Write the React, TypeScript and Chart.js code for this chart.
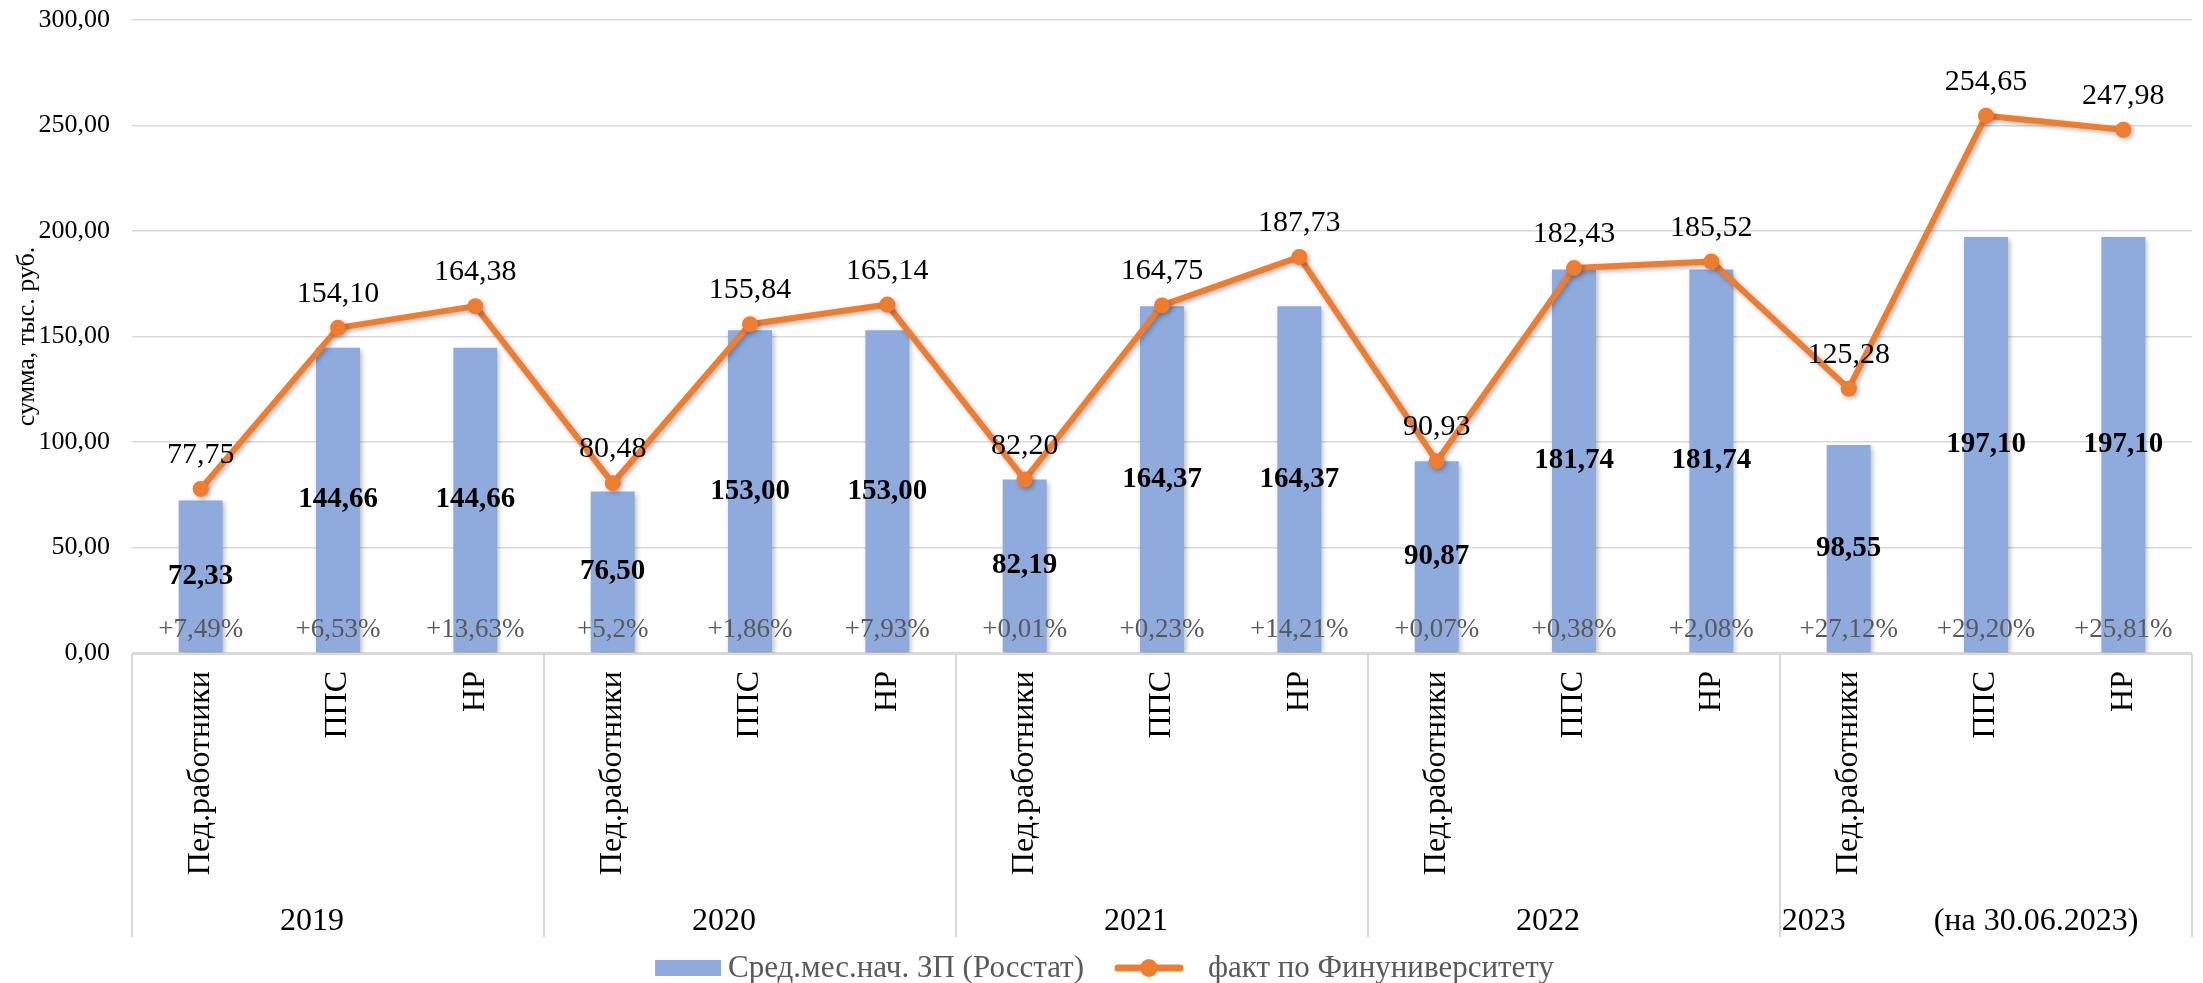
import React, { useEffect, useRef } from 'react';
import { Chart, registerables } from 'chart.js';

Chart.register(...registerables);

const FONT = "'Liberation Serif', 'Times New Roman', serif";

const categories = [
  'Пед.работники', 'ППС', 'НР',
  'Пед.работники', 'ППС', 'НР',
  'Пед.работники', 'ППС', 'НР',
  'Пед.работники', 'ППС', 'НР',
  'Пед.работники', 'ППС', 'НР',
];
const groupSize = 3;
const yearLabels = ['2019', '2020', '2021', '2022', '2023           (на 30.06.2023)'];

const rosstatValues = [72.33, 144.66, 144.66, 76.5, 153.0, 153.0, 82.19, 164.37, 164.37, 90.87, 181.74, 181.74, 98.55, 197.1, 197.1];
const factValues = [77.75, 154.1, 164.38, 80.48, 155.84, 165.14, 82.2, 164.75, 187.73, 90.93, 182.43, 185.52, 125.28, 254.65, 247.98];
const growthLabels = ['+7,49%', '+6,53%', '+13,63%', '+5,2%', '+1,86%', '+7,93%', '+0,01%', '+0,23%', '+14,21%', '+0,07%', '+0,38%', '+2,08%', '+27,12%', '+29,20%', '+25,81%'];

const seriesNames = ['Сред.мес.нач. ЗП (Росстат)', 'факт по Финуниверситету'];
const yAxisTitle = 'сумма, тыс. руб.';
const yMin = 0;
const yMax = 300;
const yStep = 50;

const BAR_COLOR = '#8FAADC';
const LINE_COLOR = '#ED7D31';
const GRID_COLOR = '#D9D9D9';

const fmt = (v: number) => v.toFixed(2).replace('.', ',');

const shadowPlugin = {
  id: 'softShadow',
  beforeDatasetDraw(chart: any) {
    const ctx = chart.ctx;
    ctx.save();
    ctx.shadowColor = 'rgba(0,0,0,0.28)';
    ctx.shadowBlur = 5;
    ctx.shadowOffsetX = 2;
    ctx.shadowOffsetY = 2;
  },
  afterDatasetDraw(chart: any) {
    chart.ctx.restore();
  },
};

const labelsPlugin = {
  id: 'valueLabels',
  afterDatasetsDraw(chart: any) {
    const ctx = chart.ctx;
    const barMeta = chart.getDatasetMeta(0);
    const lineMeta = chart.getDatasetMeta(1);
    const zero = chart.scales.y.getPixelForValue(0);
    ctx.save();
    ctx.textAlign = 'center';
    ctx.font = `27px ${FONT}`;
    ctx.fillStyle = '#595959';
    ctx.textBaseline = 'middle';
    barMeta.data.forEach((el: any, i: number) => {
      ctx.fillText(growthLabels[i], el.x, zero - 23);
    });
    ctx.font = `bold 29px ${FONT}`;
    ctx.fillStyle = '#000';
    barMeta.data.forEach((el: any, i: number) => {
      ctx.fillText(fmt(rosstatValues[i]), el.x, (el.y + el.base) / 2);
    });
    ctx.font = `30px ${FONT}`;
    ctx.textBaseline = 'alphabetic';
    lineMeta.data.forEach((el: any, i: number) => {
      ctx.fillText(fmt(factValues[i]), el.x, el.y - 26);
    });
    ctx.restore();
  },
};

const axisBoxPlugin = {
  id: 'axisBox',
  afterDraw(chart: any) {
    const x = chart.scales.x;
    const ctx = chart.ctx;
    const top = x.top + 1;
    const bottom = x.bottom;
    const bounds: number[] = [x.left];
    for (let g = 1; g < yearLabels.length; g++) {
      const i = g * groupSize;
      bounds.push((x.getPixelForValue(i - 1) + x.getPixelForValue(i)) / 2);
    }
    bounds.push(x.right);
    ctx.save();
    ctx.strokeStyle = GRID_COLOR;
    ctx.lineWidth = 2;
    ctx.beginPath();
    ctx.moveTo(x.left, top);
    ctx.lineTo(x.right, top);
    bounds.forEach((b) => {
      ctx.moveTo(b, top);
      ctx.lineTo(b, bottom);
    });
    ctx.stroke();
    ctx.font = `32px ${FONT}`;
    ctx.fillStyle = '#000';
    ctx.textAlign = 'center';
    ctx.textBaseline = 'middle';
    yearLabels.forEach((t, g) => {
      const c = (bounds[g] + bounds[g + 1]) / 2;
      ctx.fillText(t, c - 26, bottom - 15);
    });
    ctx.restore();
  },
};

const legendPlugin = {
  id: 'customLegend',
  afterDraw(chart: any) {
    const ctx = chart.ctx;
    const W = chart.width;
    const cy = chart.height - 15;
    ctx.save();
    ctx.font = `31px ${FONT}`;
    ctx.textBaseline = 'middle';
    ctx.textAlign = 'left';
    const w1 = ctx.measureText(seriesNames[0]).width;
    const w2 = ctx.measureText(seriesNames[1]).width;
    const boxW = 66;
    const lineW = 70;
    const gap = 30;
    const total = boxW + 7 + w1 + gap + lineW + 24 + w2;
    let x = W / 2 + 3 - total / 2;
    ctx.fillStyle = BAR_COLOR;
    ctx.fillRect(x, cy - 8, boxW, 16);
    x += boxW + 7;
    ctx.fillStyle = '#595959';
    ctx.fillText(seriesNames[0], x, cy + 1);
    x += w1 + gap;
    ctx.strokeStyle = LINE_COLOR;
    ctx.lineWidth = 7;
    ctx.lineCap = 'round';
    ctx.beginPath();
    ctx.moveTo(x + 4, cy);
    ctx.lineTo(x + lineW - 4, cy);
    ctx.stroke();
    ctx.fillStyle = LINE_COLOR;
    ctx.beginPath();
    ctx.arc(x + lineW / 2, cy, 9, 0, Math.PI * 2);
    ctx.fill();
    x += lineW + 24;
    ctx.fillStyle = '#595959';
    ctx.fillText(seriesNames[1], x, cy + 1);
    ctx.restore();
  },
};

export default function App() {
  const ref = useRef<HTMLCanvasElement | null>(null);

  useEffect(() => {
    document.body.style.margin = '0';
    const canvas = ref.current;
    if (!canvas) return;
    const chart = new Chart(canvas, {
      type: 'bar',
      data: {
        labels: categories,
        datasets: [
          {
            type: 'bar',
            label: seriesNames[0],
            data: rosstatValues,
            backgroundColor: BAR_COLOR,
            borderWidth: 0,
            categoryPercentage: 1,
            barPercentage: 0.32,
            order: 1,
          },
          {
            type: 'line',
            label: seriesNames[1],
            data: factValues,
            borderColor: LINE_COLOR,
            backgroundColor: LINE_COLOR,
            borderWidth: 6,
            pointRadius: 8,
            pointBackgroundColor: LINE_COLOR,
            pointBorderColor: LINE_COLOR,
            pointBorderWidth: 0,
            borderJoinStyle: 'round',
            borderCapStyle: 'round',
            tension: 0,
            order: 0,
          },
        ],
      } as any,
      options: {
        responsive: false,
        animation: false,
        layout: { padding: { top: 20, right: 11, bottom: 46, left: 0 } },
        plugins: {
          legend: { display: false },
          tooltip: { enabled: false },
        },
        scales: {
          x: {
            offset: true,
            grid: { display: false, drawTicks: false },
            border: { display: false },
            ticks: {
              autoSkip: false,
              minRotation: 90,
              maxRotation: 90,
              padding: 18,
              color: '#000',
              font: { family: FONT, size: 32 },
            },
            afterFit: (scale: any) => {
              scale.height = 284;
            },
          },
          y: {
            min: yMin,
            max: yMax,
            grid: { color: GRID_COLOR, lineWidth: 1.5, drawTicks: false },
            border: { display: false },
            ticks: {
              stepSize: yStep,
              padding: 22,
              color: '#000',
              font: { family: FONT, size: 26 },
              callback: (v: any) => fmt(Number(v)),
            },
            title: {
              display: true,
              text: yAxisTitle,
              color: '#000',
              font: { family: FONT, size: 26 },
              padding: { top: 12, bottom: 0 },
            },
            afterFit: (scale: any) => {
              scale.width = 132;
              scale.paddingTop = 0;
              scale.paddingBottom = 0;
            },
          },
        },
      },
      plugins: [shadowPlugin, labelsPlugin, axisBoxPlugin, legendPlugin],
    } as any);
    return () => chart.destroy();
  }, []);

  return (
    <div style={{ width: 2203, height: 983, background: '#fff' }}>
      <canvas ref={ref} width={2203} height={983} style={{ display: 'block' }} />
    </div>
  );
}
